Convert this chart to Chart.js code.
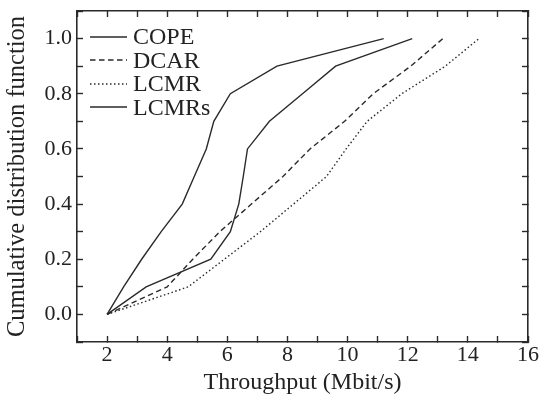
<!DOCTYPE html>
<html><head><meta charset="utf-8">
<script src="https://cdn.jsdelivr.net/npm/chart.js@4.4.0/dist/chart.umd.min.js"></script>
<style>
html,body{margin:0;padding:0;background:#fff;}
#wrap{position:relative;width:542px;height:399px;}
#legend{position:absolute;left:90px;top:25px;font-family:"Liberation Serif";font-size:24px;color:#222;}
.item{display:flex;align-items:center;height:23.5px;line-height:23.5px;white-space:nowrap;}
.item svg{width:37px;height:4px;margin-right:6px;display:block;}
</style></head><body>
<div id="wrap"><canvas id="c" width="542" height="399"></canvas><div id="legend"></div></div>
<script>
// CDF levels (y) and throughput values (x) per series
const cdfLevels = [0, 0.1, 0.2, 0.3, 0.4, 0.5, 0.6, 0.7, 0.8, 0.9, 1.0];
const seriesNames = ['COPE', 'DCAR', 'LCMR', 'LCMRs'];
const copeX  = [2, 2.55, 3.15, 3.8, 4.5, 4.9, 5.3, 5.55, 6.1, 7.65, 11.2];
const dcarX  = [2, 4.0, 4.85, 5.75, 6.8, 7.85, 8.75, 9.9, 10.85, 12.1, 13.17];
const lcmrX  = [2, 4.7, 5.9, 7.1, 8.2, 9.3, 9.95, 10.65, 11.8, 13.25, 14.37];
const lcmrsX = [2, 3.3, 5.45, 6.1, 6.38, 6.53, 6.67, 7.4, 8.5, 9.6, 12.15];
const xTickLabels = ['2', '4', '6', '8', '10', '12', '14', '16'];
const yTickLabels = ['0.0', '0.2', '0.4', '0.6', '0.8', '1.0'];

const seriesX = [copeX, dcarX, lcmrX, lcmrsX];
const dashes = [[], [5.5, 3.5], [1.5, 2.5], []];
const ink = '#2a2a2a';
const font = 'Liberation Serif';

const datasets = seriesNames.map((name, i) => ({
  label: name,
  data: seriesX[i].map((x, j) => ({x: x, y: cdfLevels[j]})),
  borderColor: ink,
  borderWidth: 1.4,
  borderDash: dashes[i],
  pointRadius: 0,
  showLine: true,
  fill: false,
  tension: 0
}));

const tickFont = {family: font, size: 22};
const fmtY = v => {
  const s = (Math.round(v * 10) / 10).toFixed(1);
  return yTickLabels.includes(s) ? s : '';
};
const fmtX = v => {
  const s = String(Math.round(v));
  return xTickLabels.includes(s) ? s : '';
};
const gridCommon = {drawOnChartArea: false, drawTicks: true, tickLength: -6, tickColor: ink, tickWidth: 1.4};
const borderCommon = {display: true, color: ink, width: 1.6};
const fixBox = (s, w, h) => {
  if (w !== null) s.width = w;
  if (h !== null) s.height = h;
  s.paddingTop = 0; s.paddingBottom = 0; s.paddingLeft = 0; s.paddingRight = 0;
};

new Chart(document.getElementById('c'), {
  type: 'scatter',
  data: {datasets},
  options: {
    responsive: false,
    animation: false,
    layout: {padding: 0},
    plugins: {legend: {display: false}, tooltip: {enabled: false}},
    scales: {
      x: {
        type: 'linear', position: 'bottom', min: 1, max: 16,
        ticks: {stepSize: 1, autoSkip: false, maxRotation: 0, padding: 6, color: '#222', font: tickFont, callback: fmtX},
        grid: gridCommon, border: borderCommon,
        title: {display: true, text: 'Throughput (Mbit/s)', color: '#222', font: {family: font, size: 24}, padding: {top: 0, bottom: 2}},
        afterFit: s => fixBox(s, null, 57)
      },
      x2: {
        type: 'linear', position: 'top', min: 1, max: 16,
        ticks: {stepSize: 1, autoSkip: false, maxRotation: 0, callback: () => ''},
        grid: gridCommon, border: borderCommon,
        afterFit: s => fixBox(s, null, 11)
      },
      y: {
        type: 'linear', position: 'left', min: -0.1, max: 1.1,
        ticks: {stepSize: 0.1, autoSkip: false, padding: 11, color: '#222', font: tickFont, callback: fmtY},
        grid: gridCommon, border: borderCommon,
        title: {display: true, text: 'Cumulative distribution function', color: '#222', font: {family: font, size: 24.5}, padding: {top: 3, bottom: 0}},
        afterFit: s => fixBox(s, 77, null)
      },
      y2: {
        type: 'linear', position: 'right', min: -0.1, max: 1.1,
        ticks: {stepSize: 0.1, autoSkip: false, callback: () => ''},
        grid: gridCommon, border: borderCommon,
        afterFit: s => fixBox(s, 14, null)
      }
    }
  }
});

// HTML legend built from the datasets
const leg = document.getElementById('legend');
datasets.forEach(ds => {
  const row = document.createElement('div');
  row.className = 'item';
  const dash = ds.borderDash.length ? ` stroke-dasharray="${ds.borderDash.join(' ')}"` : '';
  row.innerHTML = `<svg viewBox="0 0 37 4"><line x1="0" y1="2" x2="37" y2="2" stroke="${ink}" stroke-width="1.5"${dash}/></svg><span>${ds.label}</span>`;
  leg.appendChild(row);
});
</script>
</body></html>
